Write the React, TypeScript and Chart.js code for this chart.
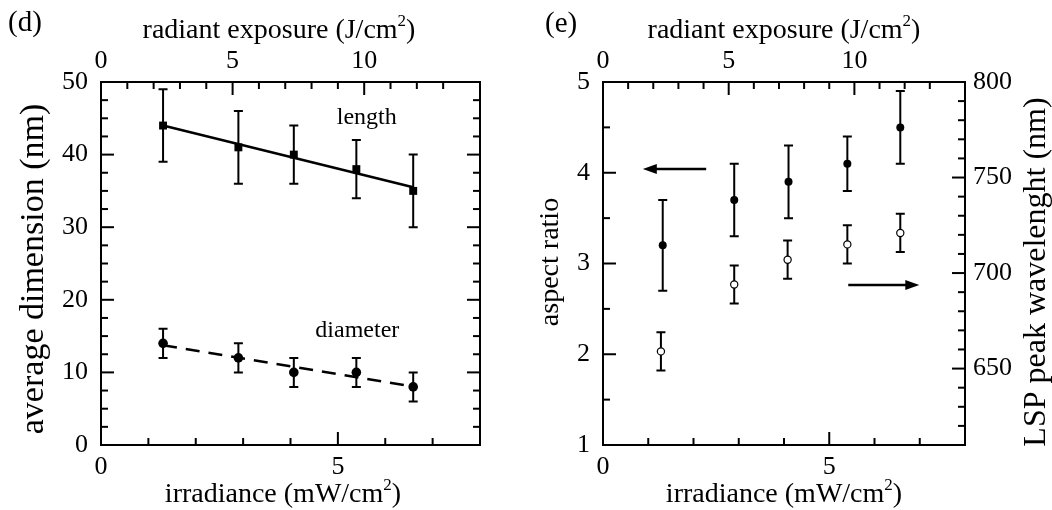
import React, { useEffect, useRef } from 'react';
import { Chart, registerables } from 'chart.js';

Chart.register(...registerables);

const FONT = '"Liberation Serif", "Times New Roman", serif';

// ---------- Panel (d) data ----------
const irradianceD = [1.31, 2.9, 4.07, 5.39, 6.59];
const lengthNm = [44, 41, 40, 38, 35];
const lengthErr = [5, 5, 4, 4, 5];
const diameterNm = [14, 12, 10, 10, 8];
const diameterErr = [2, 2, 2, 2, 2];
const lengthFitX = [1.31, 6.59];
const lengthFitY = [44.0, 35.5];
const diameterFitX = [1.31, 6.59];
const diameterFitY = [13.75, 8.05];

// ---------- Panel (e) data ----------
const irradianceAspect = [1.32, 2.9, 4.1, 5.4, 6.57];
const aspectRatio = [3.2, 3.7, 3.9, 4.1, 4.5];
const aspectErr = [0.5, 0.4, 0.4, 0.3, 0.4];
const irradianceLsp = [1.28, 2.9, 4.08, 5.4, 6.57];
const lspPeak = [659, 694, 707, 715, 721];
const lspErr = [10, 10, 10, 10, 10];

// ---------- Axes ----------
const irrRange = [0, 8];
const irrTickLabels = [0, 5];
const expRange = [0, 14.4];
const expTickLabels = [0, 5, 10];
const dimRange = [0, 50];
const dimTickLabels = [0, 10, 20, 30, 40, 50];
const arRange = [1, 5];
const arTickLabels = [1, 2, 3, 4, 5];
const lspRange = [610, 800];
const lspTickLabels = [650, 700, 750, 800];

const TICK_SIZE = 26;
const TITLE_SIZE = 28;

type Part = { t: string; sup?: boolean };
type TextItem = {
  parts: Part[];
  x: number;
  y: number;
  size: number;
  align?: 'left' | 'center';
  rotate?: boolean;
  data?: { xs: string; ys: string };
};
type TickSpec = { scale: string; side: 'left' | 'right' | 'top' | 'bottom'; major: number };
type ArrowSpec = { xs: string; ys: string; x0: number; x1: number; y: number };

const pts = (xs: number[], ys: number[]) => xs.map((x, i) => ({ x, y: ys[i] }));

const labelCb = (labels: number[]) => (v: any) =>
  labels.some((l) => Math.abs(l - Number(v)) < 1e-6) ? String(v) : '';

function drawParts(ctx: CanvasRenderingContext2D, item: TextItem, x: number, y: number) {
  ctx.save();
  const size = item.size;
  const supSize = Math.round(size * 0.62);
  const widths = item.parts.map((p) => {
    ctx.font = `${p.sup ? supSize : size}px ${FONT}`;
    return ctx.measureText(p.t).width;
  });
  const total = widths.reduce((a, b) => a + b, 0);
  ctx.translate(x, y);
  if (item.rotate) ctx.rotate(-Math.PI / 2);
  let cx = item.align === 'left' ? 0 : -total / 2;
  ctx.fillStyle = '#000';
  ctx.textBaseline = 'alphabetic';
  ctx.textAlign = 'left';
  item.parts.forEach((p, i) => {
    ctx.font = `${p.sup ? supSize : size}px ${FONT}`;
    ctx.fillText(p.t, cx, p.sup ? -size * 0.42 : 0);
    cx += widths[i];
  });
  ctx.restore();
}

function makeDecor(ticks: TickSpec[], texts: TextItem[], arrows: ArrowSpec[]) {
  return {
    id: 'decor',
    beforeDatasetsDraw(chart: any) {
      const ctx: CanvasRenderingContext2D = chart.ctx;
      ctx.save();
      ctx.strokeStyle = '#000';
      ctx.lineWidth = 2;
      chart.data.datasets.forEach((ds: any, i: number) => {
        if (!ds.errors) return;
        const meta = chart.getDatasetMeta(i);
        const ys = chart.scales[ds.yAxisID || 'y'];
        meta.data.forEach((el: any, j: number) => {
          const v = ds.data[j].y;
          const e = ds.errors[j];
          const top = ys.getPixelForValue(v + e);
          const bot = ys.getPixelForValue(v - e);
          const x = el.x;
          const cap = 4.5;
          ctx.beginPath();
          ctx.moveTo(x, top);
          ctx.lineTo(x, bot);
          ctx.moveTo(x - cap, top);
          ctx.lineTo(x + cap, top);
          ctx.moveTo(x - cap, bot);
          ctx.lineTo(x + cap, bot);
          ctx.stroke();
        });
      });
      ctx.restore();
    },
    afterDraw(chart: any) {
      const ctx: CanvasRenderingContext2D = chart.ctx;
      const a = chart.chartArea;
      ctx.save();
      ctx.strokeStyle = '#000';
      ctx.lineWidth = 2;
      ctx.strokeRect(a.left, a.top, a.right - a.left, a.bottom - a.top);
      ticks.forEach((spec) => {
        const s = chart.scales[spec.scale];
        s.ticks.forEach((t: any) => {
          const v = t.value;
          if (v <= s.min + 1e-9 || v >= s.max - 1e-9) return;
          const r = v / spec.major;
          const major = Math.abs(r - Math.round(r)) < 1e-6;
          const len = major ? 13 : 7;
          const p = s.getPixelForValue(v);
          ctx.beginPath();
          if (spec.side === 'left') { ctx.moveTo(a.left, p); ctx.lineTo(a.left + len, p); }
          if (spec.side === 'right') { ctx.moveTo(a.right, p); ctx.lineTo(a.right - len, p); }
          if (spec.side === 'top') { ctx.moveTo(p, a.top); ctx.lineTo(p, a.top + len); }
          if (spec.side === 'bottom') { ctx.moveTo(p, a.bottom); ctx.lineTo(p, a.bottom - len); }
          ctx.stroke();
        });
      });
      arrows.forEach((ar) => {
        const xs = chart.scales[ar.xs];
        const ys = chart.scales[ar.ys];
        const x0 = xs.getPixelForValue(ar.x0);
        const x1 = xs.getPixelForValue(ar.x1);
        const y = ys.getPixelForValue(ar.y);
        const dir = Math.sign(x1 - x0);
        const head = 14;
        ctx.lineWidth = 2.5;
        ctx.beginPath();
        ctx.moveTo(x0, y);
        ctx.lineTo(x1 - dir * head * 0.8, y);
        ctx.stroke();
        ctx.fillStyle = '#000';
        ctx.beginPath();
        ctx.moveTo(x1, y);
        ctx.lineTo(x1 - dir * head, y - 5);
        ctx.lineTo(x1 - dir * head, y + 5);
        ctx.closePath();
        ctx.fill();
      });
      texts.forEach((tx) => {
        let x = tx.x;
        let y = tx.y;
        if (tx.data) {
          x = chart.scales[tx.data.xs].getPixelForValue(tx.x);
          y = chart.scales[tx.data.ys].getPixelForValue(tx.y);
        }
        drawParts(ctx, tx, x, y);
      });
      ctx.restore();
    },
  };
}

const noGrid = { display: false, drawTicks: false };
const tickFont = { family: FONT, size: TICK_SIZE };

function scale(range: number[], step: number, labels: number[], position: string, padding: number, fit: (s: any) => void) {
  return {
    type: 'linear',
    position,
    min: range[0],
    max: range[1],
    grid: noGrid,
    border: { display: false },
    ticks: {
      stepSize: step,
      autoSkip: false,
      maxRotation: 0,
      padding,
      color: '#000',
      font: tickFont,
      callback: labelCb(labels),
    },
    afterFit: fit,
  };
}

function configD(): any {
  return {
    type: 'scatter',
    data: {
      datasets: [
        {
          data: pts(lengthFitX, lengthFitY),
          showLine: true,
          pointRadius: 0,
          borderColor: '#000',
          borderWidth: 2.5,
        },
        {
          data: pts(diameterFitX, diameterFitY),
          showLine: true,
          pointRadius: 0,
          borderColor: '#000',
          borderWidth: 2.5,
          borderDash: [14, 9],
        },
        {
          data: pts(irradianceD, lengthNm),
          errors: lengthErr,
          pointStyle: 'rect',
          pointRadius: 5.6,
          pointBackgroundColor: '#000',
          pointBorderColor: '#000',
          pointBorderWidth: 0,
        },
        {
          data: pts(irradianceD, diameterNm),
          errors: diameterErr,
          pointStyle: 'circle',
          pointRadius: 4.8,
          pointBackgroundColor: '#000',
          pointBorderColor: '#000',
          pointBorderWidth: 0,
        },
      ],
    },
    options: {
      responsive: false,
      animation: false,
      devicePixelRatio: 1,
      events: [],
      layout: { padding: { left: 0, right: 46, top: 0, bottom: 0 } },
      plugins: { legend: { display: false }, tooltip: { enabled: false } },
      scales: {
        x: scale(irrRange, 1, irrTickLabels, 'bottom', 7, (s: any) => { s.height = 65; }),
        x2: scale(expRange, 1, expTickLabels, 'top', 5, (s: any) => { s.height = 82; }),
        y: scale(dimRange, 2.5, dimTickLabels, 'left', 13, (s: any) => { s.width = 101; }),
      },
    },
    plugins: [
      makeDecor(
        [
          { scale: 'x', side: 'bottom', major: 5 },
          { scale: 'x2', side: 'top', major: 5 },
          { scale: 'y', side: 'left', major: 10 },
          { scale: 'y', side: 'right', major: 10 },
        ],
        [
          { parts: [{ t: '(d)' }], x: 8, y: 31, size: 29, align: 'left' },
          { parts: [{ t: 'radiant exposure (J/cm' }, { t: '2', sup: true }, { t: ')' }], x: 279, y: 38, size: TITLE_SIZE },
          { parts: [{ t: 'irradiance (mW/cm' }, { t: '2', sup: true }, { t: ')' }], x: 283, y: 502, size: TITLE_SIZE },
          { parts: [{ t: 'average dimension (nm)' }], x: 43, y: 269, size: 34, rotate: true },
          { parts: [{ t: 'length' }], x: 5.61, y: 44.2, size: 24, data: { xs: 'x', ys: 'y' } },
          { parts: [{ t: 'diameter' }], x: 5.41, y: 14.9, size: 24, data: { xs: 'x', ys: 'y' } },
        ],
        []
      ),
    ],
  };
}

function configE(): any {
  return {
    type: 'scatter',
    data: {
      datasets: [
        {
          data: pts(irradianceAspect, aspectRatio),
          errors: aspectErr,
          yAxisID: 'y',
          pointStyle: 'circle',
          pointRadius: 4,
          pointBackgroundColor: '#000',
          pointBorderColor: '#000',
          pointBorderWidth: 0,
        },
        {
          data: pts(irradianceLsp, lspPeak),
          errors: lspErr,
          yAxisID: 'y2',
          pointStyle: 'circle',
          pointRadius: 3.6,
          pointBackgroundColor: '#fff',
          pointBorderColor: '#000',
          pointBorderWidth: 1.2,
        },
      ],
    },
    options: {
      responsive: false,
      animation: false,
      devicePixelRatio: 1,
      events: [],
      layout: { padding: 0 },
      plugins: { legend: { display: false }, tooltip: { enabled: false } },
      scales: {
        x: scale(irrRange, 1, irrTickLabels, 'bottom', 7, (s: any) => { s.height = 65; }),
        x2: scale(expRange, 1, expTickLabels, 'top', 5, (s: any) => { s.height = 82; }),
        y: scale(arRange, 0.5, arTickLabels, 'left', 13, (s: any) => { s.width = 77; }),
        y2: scale(lspRange, 10, lspTickLabels, 'right', 8, (s: any) => { s.width = 87; }),
      },
    },
    plugins: [
      makeDecor(
        [
          { scale: 'x', side: 'bottom', major: 5 },
          { scale: 'x2', side: 'top', major: 5 },
          { scale: 'y', side: 'left', major: 1 },
          { scale: 'y2', side: 'right', major: 50 },
        ],
        [
          { parts: [{ t: '(e)' }], x: 19, y: 32, size: 29, align: 'left' },
          { parts: [{ t: 'radiant exposure (J/cm' }, { t: '2', sup: true }, { t: ')' }], x: 258, y: 38, size: TITLE_SIZE },
          { parts: [{ t: 'irradiance (mW/cm' }, { t: '2', sup: true }, { t: ')' }], x: 258, y: 502, size: TITLE_SIZE },
          { parts: [{ t: 'aspect ratio' }], x: 32, y: 262, size: TITLE_SIZE, rotate: true },
          { parts: [{ t: 'LSP peak wavelenght (nm)' }], x: 519, y: 272, size: 32, rotate: true },
        ],
        [
          { xs: 'x', ys: 'y', x0: 2.28, x1: 0.88, y: 4.04 },
          { xs: 'x', ys: 'y2', x0: 5.42, x1: 6.99, y: 693.8 },
        ]
      ),
    ],
  };
}

function Panel({ make }: { make: () => any }) {
  const ref = useRef<HTMLCanvasElement>(null);
  useEffect(() => {
    const chart = new Chart(ref.current as HTMLCanvasElement, make());
    return () => chart.destroy();
  }, [make]);
  return <canvas ref={ref} width={526} height={510} style={{ display: 'block', width: 526, height: 510 }} />;
}

export default function App() {
  return (
    <div style={{ position: 'absolute', left: 0, top: 0, width: 1052, height: 510, display: 'flex', background: '#fff' }}>
      <Panel make={configD} />
      <Panel make={configE} />
    </div>
  );
}
